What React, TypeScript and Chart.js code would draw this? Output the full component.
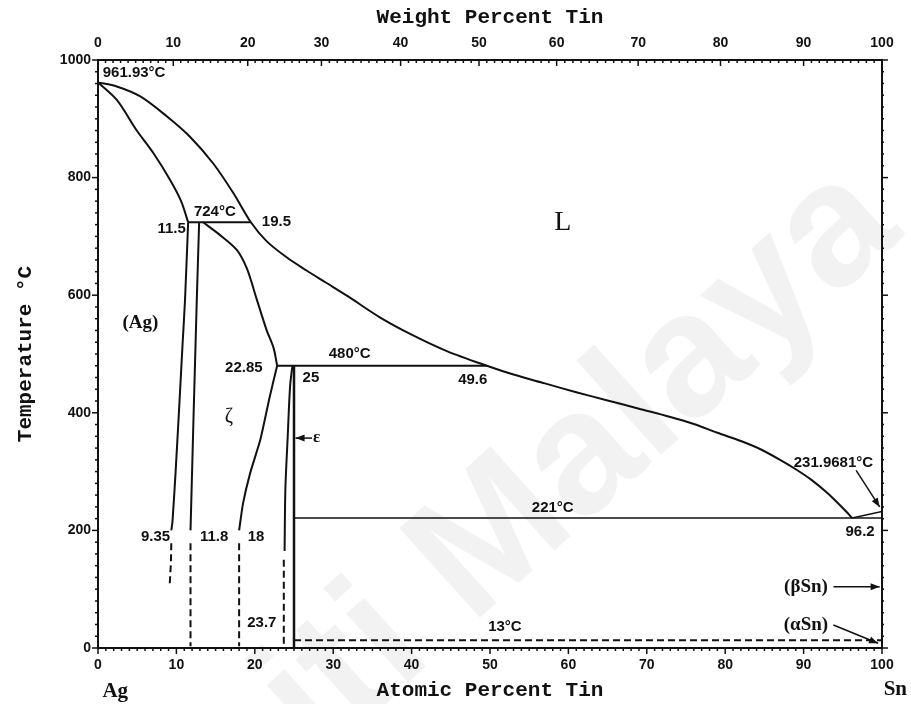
import React, { useEffect, useRef } from "react";
import { Chart, registerables } from "chart.js";

Chart.register(...registerables);

// Ag–Sn binary phase diagram. Every point is [atomic percent Sn, temperature °C].
type P = [number, number];

const liquidus: P[] = [
  [0, 961.93], [2.4, 955], [5.4, 938], [8.8, 904], [11.7, 870], [14.7, 824], [17.3, 773],
  [19.5, 724], [21.5, 692], [24.1, 664], [26.6, 642], [29, 622], [32, 597], [36, 562],
  [40, 533], [44.5, 505], [49.6, 480], [53, 465], [57, 450], [61, 435], [65, 421],
  [69, 407], [73, 393], [76, 381], [79, 366], [82, 352], [84.5, 338], [87, 320],
  [89, 304], [91, 286], [93, 264], [95, 238], [96.2, 221],
];
const agSolidus: P[] = [[0, 961.93], [2.4, 932], [4.9, 881], [7.1, 841], [9.2, 796], [10.6, 760], [11.5, 724]];
const agSolvus: P[] = [[11.5, 724], [11.1, 592], [10.8, 520], [10.4, 420], [9.9, 300], [9.5, 215], [9.35, 200]];
const agSolvusLow: P[] = [[9.35, 178], [9.3, 145], [9.15, 108]];
const zetaLeft: P[] = [[12.9, 724], [12.6, 592], [12.2, 400], [11.8, 200]];
const zetaLeftLow: P[] = [[11.8, 178], [11.8, 3]];
const zetaSolidus: P[] = [[13.4, 724], [15.5, 703], [17.7, 677], [19.0, 645], [20.2, 595], [21.5, 541], [22.4, 510], [22.85, 480]];
const zetaRight: P[] = [[22.85, 480], [21.9, 427], [20.7, 354], [19.4, 297], [18.5, 246], [18, 200]];
const zetaRightLow: P[] = [[18, 178], [18, 3]];
const epsLeft: P[] = [[24.8, 480], [24.5, 445], [24.2, 360], [23.9, 270], [23.8, 165]];
const epsLeftLow: P[] = [[23.7, 150], [23.7, 3]];
const epsRight: P[] = [[25, 480], [25, 0]];
const snLiquidus: P[] = [[96.2, 221], [100, 231.9681]];
const tie724: P[] = [[11.5, 724], [19.5, 724]];
const tie480: P[] = [[22.85, 480], [49.6, 480]];
const tie221: P[] = [[25, 221], [100, 221]];
const tie13: P[] = [[25, 13], [100, 13]];

// Pointer arrows (tail, head)
const epsArrow: P[] = [[27.3, 357], [25.2, 357]];
const betaSnArrow: P[] = [[93.8, 104], [99.7, 104]];
const alphaSnArrow: P[] = [[93.8, 39], [99.5, 8]];
const snMeltArrow: P[] = [[96.7, 302], [99.7, 240]];

// Top axis: weight percent Sn, placed at its atomic-percent position
const weightTickLabels = ["0", "10", "20", "30", "40", "50", "60", "70", "80", "90", "100"];
const weightTickAtomic = [0, 9.6, 19.1, 28.5, 38.6, 48.6, 58.5, 68.9, 79.4, 90.0, 100];

// Value annotations: text, at.% Sn, °C, alignment
const valueLabels: [string, number, number, CanvasTextAlign][] = [
  ["961.93°C", 0.6, 978, "left"],
  ["724°C", 14.9, 741, "center"],
  ["11.5", 11.2, 712, "right"],
  ["19.5", 20.9, 724, "left"],
  ["22.85", 21.0, 476, "right"],
  ["480°C", 32.1, 501, "center"],
  ["25", 26.1, 459, "left"],
  ["49.6", 47.8, 456, "center"],
  ["221°C", 58.0, 238, "center"],
  ["231.9681°C", 93.8, 315, "center"],
  ["96.2", 97.2, 197, "center"],
  ["9.35", 9.2, 189, "right"],
  ["11.8", 13.0, 189, "left"],
  ["18", 19.1, 189, "left"],
  ["23.7", 20.9, 42, "center"],
  ["13°C", 51.9, 36, "center"],
];

// Phase field names: text, at.% Sn, °C
const phaseLabels: [string, number, number][] = [
  ["L", 59.3, 724],
  ["(Ag)", 5.4, 553],
  ["ζ", 16.7, 393],
  ["ε", 27.9, 357],
  ["(βSn)", 90.3, 104],
  ["(αSn)", 90.3, 39],
];

const INK = "#111";
const TICK_FONT = { family: "'Liberation Sans', Arial, sans-serif", size: 14, weight: "bold" as const };
const TITLE_FONT = { family: "'Liberation Mono', 'DejaVu Sans Mono', monospace", size: 21, weight: "bold" as const };

function line(data: P[], opts: any = {}) {
  return {
    data: data.map(([x, y]) => ({ x, y })),
    showLine: true,
    pointRadius: 0,
    borderColor: INK,
    borderWidth: 2,
    tension: 0,
    fill: false,
    ...opts,
  };
}

const watermark = {
  id: "watermark",
  beforeDraw(chart: any) {
    const { ctx } = chart;
    ctx.save();
    ctx.translate(905, 235);
    ctx.rotate((-42 * Math.PI) / 180);
    ctx.fillStyle = "rgba(0,0,0,0.05)";
    ctx.font = "bold 175px 'Liberation Sans', Arial, sans-serif";
    ctx.textAlign = "right";
    ctx.textBaseline = "alphabetic";
    ctx.fillText("Universiti Malaya", 0, 0);
    ctx.restore();
  },
};

const frameTicks = {
  id: "frameTicks",
  afterDraw(chart: any) {
    const { ctx, chartArea, scales } = chart;
    const { left, right, top, bottom } = chartArea;
    const x = scales.x;
    const y = scales.y;
    ctx.save();
    ctx.strokeStyle = INK;
    ctx.lineWidth = 1.5;
    const seg = (x1: number, y1: number, x2: number, y2: number) => {
      ctx.beginPath();
      ctx.moveTo(x1, y1);
      ctx.lineTo(x2, y2);
      ctx.stroke();
    };
    // bottom: atomic percent, minor every 1, major every 10
    for (let v = 0; v <= 100; v++) {
      const px = x.getPixelForValue(v);
      seg(px, bottom, px, bottom + (v % 10 === 0 ? 6 : 3));
    }
    // top: weight percent, minor every 1 wt.%
    for (let i = 0; i < weightTickAtomic.length; i++) {
      const px = x.getPixelForValue(weightTickAtomic[i]);
      seg(px, top, px, top + 6);
      if (i < weightTickAtomic.length - 1) {
        const a = weightTickAtomic[i];
        const b = weightTickAtomic[i + 1];
        for (let k = 1; k < 10; k++) {
          const m = x.getPixelForValue(a + ((b - a) * k) / 10);
          seg(m, top, m, top + 3);
        }
      }
    }
    // left and right: temperature, minor every 20 °C, major every 200 °C
    for (let t = 0; t <= 1000; t += 20) {
      const py = y.getPixelForValue(t);
      const major = t % 200 === 0;
      seg(left, py, left - (major ? 6 : 3), py);
      seg(right, py, right + (major ? 6 : 2), py);
    }
    ctx.restore();
  },
};

const arrowHeads = {
  id: "arrowHeads",
  afterDatasetsDraw(chart: any) {
    const { ctx } = chart;
    ctx.save();
    ctx.fillStyle = INK;
    chart.data.datasets.forEach((ds: any, i: number) => {
      if (!ds.arrow) return;
      const pts = chart.getDatasetMeta(i).data;
      const a = pts[pts.length - 2];
      const b = pts[pts.length - 1];
      const ang = Math.atan2(b.y - a.y, b.x - a.x);
      const len = 9;
      const half = 3.5;
      ctx.beginPath();
      ctx.moveTo(b.x, b.y);
      ctx.lineTo(b.x - len * Math.cos(ang) + half * Math.sin(ang), b.y - len * Math.sin(ang) - half * Math.cos(ang));
      ctx.lineTo(b.x - len * Math.cos(ang) - half * Math.sin(ang), b.y - len * Math.sin(ang) + half * Math.cos(ang));
      ctx.closePath();
      ctx.fill();
    });
    ctx.restore();
  },
};

const annotations = {
  id: "annotations",
  afterDraw(chart: any) {
    const { ctx, scales } = chart;
    const x = scales.x;
    const y = scales.y;
    ctx.save();
    ctx.fillStyle = INK;
    ctx.textBaseline = "middle";
    ctx.font = "bold 15px 'Liberation Sans', Arial, sans-serif";
    for (const [text, a, t, align] of valueLabels) {
      ctx.textAlign = align;
      ctx.fillText(text, x.getPixelForValue(a), y.getPixelForValue(t));
    }
    ctx.textAlign = "center";
    for (const [text, a, t] of phaseLabels) {
      if (text === "L") ctx.font = "28px 'Liberation Serif', serif";
      else if (text === "ζ") ctx.font = "20px 'Liberation Serif', serif";
      else if (text === "ε") ctx.font = "bold 17px 'Liberation Serif', serif";
      else ctx.font = "bold 19px 'Liberation Serif', serif";
      ctx.fillText(text, x.getPixelForValue(a), y.getPixelForValue(t));
    }
    // component names at the two ends of the composition axis
    ctx.font = "bold 21px 'Liberation Serif', serif";
    const yb = chart.chartArea.bottom + 44;
    ctx.fillText("Ag", x.getPixelForValue(2.2), yb);
    ctx.fillText("Sn", x.getPixelForValue(101.7), yb - 2);
    ctx.restore();
  },
};

export default function App() {
  const ref = useRef<HTMLCanvasElement | null>(null);

  useEffect(() => {
    if (!ref.current) return;
    const dash = [7, 4];
    const chart = new Chart(ref.current, {
      type: "scatter",
      data: {
        datasets: [
          line(liquidus, { tension: 0.3 }),
          line(agSolidus, { tension: 0.3 }),
          line(agSolvus, { tension: 0.2 }),
          line(agSolvusLow, { borderDash: dash }),
          line(zetaLeft),
          line(zetaLeftLow, { borderDash: dash }),
          line(zetaSolidus, { tension: 0.3 }),
          line(zetaRight, { tension: 0.2 }),
          line(zetaRightLow, { borderDash: dash }),
          line(epsLeft, { tension: 0.3 }),
          line(epsLeftLow, { borderDash: dash }),
          line(epsRight, { borderWidth: 2.5 }),
          line(snLiquidus, { borderWidth: 1.5 }),
          line(tie724),
          line(tie480),
          line(tie221, { borderWidth: 1.5 }),
          line(tie13, { borderDash: dash }),
          line(epsArrow, { borderWidth: 1.5, arrow: true }),
          line(betaSnArrow, { borderWidth: 1.5, arrow: true }),
          line(alphaSnArrow, { borderWidth: 1.5, arrow: true }),
          line(snMeltArrow, { borderWidth: 1.5, arrow: true }),
        ] as any,
      },
      options: {
        responsive: false,
        animation: false,
        events: [],
        layout: { padding: 0 },
        plugins: { legend: { display: false }, tooltip: { enabled: false }, title: { display: false } },
        scales: {
          x: {
            type: "linear",
            position: "bottom",
            min: 0,
            max: 100,
            afterFit: (s: any) => { s.height = 56; },
            border: { display: true, color: INK, width: 2 },
            grid: { display: false, drawTicks: false },
            ticks: { stepSize: 10, padding: 9, color: INK, font: TICK_FONT, autoSkip: false, maxRotation: 0 },
            title: { display: true, text: "Atomic Percent Tin", color: INK, font: TITLE_FONT, padding: { top: 0, bottom: 1 } },
          },
          x2: {
            type: "linear",
            position: "top",
            min: 0,
            max: 100,
            afterFit: (s: any) => { s.height = 60; },
            afterBuildTicks: (s: any) => { s.ticks = weightTickAtomic.map((v) => ({ value: v })); },
            border: { display: true, color: INK, width: 2 },
            grid: { display: false, drawTicks: false },
            ticks: {
              padding: 8,
              color: INK,
              font: TICK_FONT,
              autoSkip: false,
              maxRotation: 0,
              callback: (_v: any, i: number) => weightTickLabels[i],
            },
            title: { display: true, text: "Weight Percent Tin", color: INK, font: TITLE_FONT, padding: { top: 5, bottom: 0 } },
          },
          y: {
            type: "linear",
            position: "left",
            min: 0,
            max: 1000,
            afterFit: (s: any) => { s.width = 98; },
            border: { display: true, color: INK, width: 2 },
            grid: { display: false, drawTicks: false },
            ticks: { stepSize: 200, padding: 7, color: INK, font: TICK_FONT, callback: (v: any) => String(v) },
            title: { display: true, text: "Temperature °C", color: INK, font: TITLE_FONT, padding: { top: 13, bottom: 0 } },
          },
          y2: {
            type: "linear",
            position: "right",
            min: 0,
            max: 1000,
            afterFit: (s: any) => { s.width = 29; },
            border: { display: true, color: INK, width: 2 },
            grid: { display: false, drawTicks: false },
            ticks: { display: false, stepSize: 200 },
          },
        },
      } as any,
      plugins: [watermark, arrowHeads, frameTicks, annotations],
    });
    return () => chart.destroy();
  }, []);

  return (
    <div style={{ position: "fixed", left: 0, top: 0, width: 911, height: 704, background: "#fff" }}>
      <canvas ref={ref} width={911} height={704} style={{ display: "block" }} />
    </div>
  );
}
